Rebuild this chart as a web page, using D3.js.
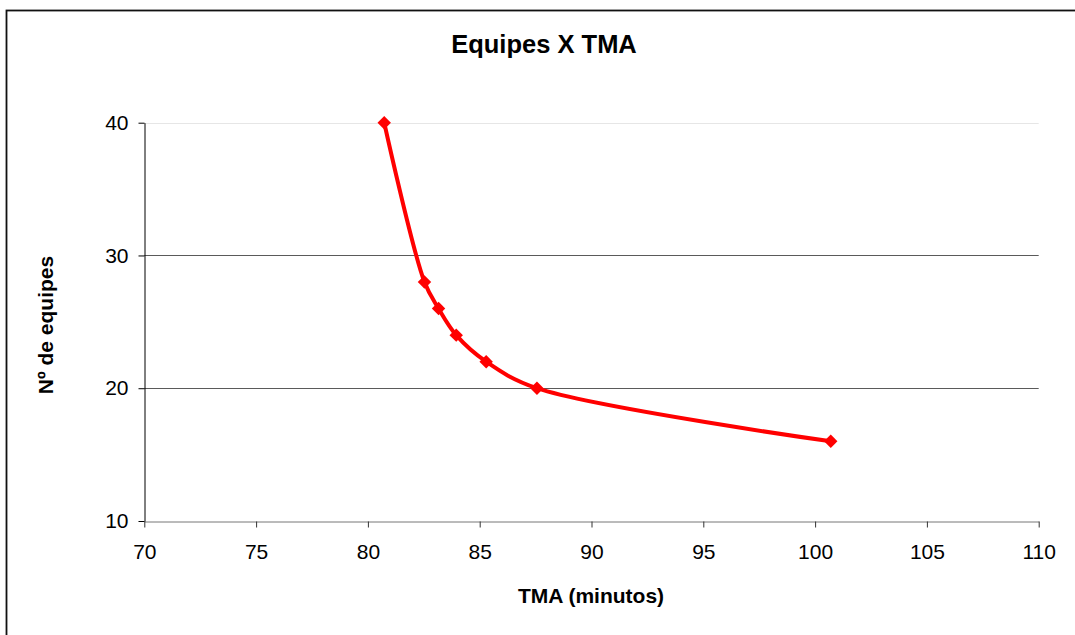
<!DOCTYPE html>
<html>
<head>
<meta charset="utf-8">
<script src="https://cdn.jsdelivr.net/npm/d3@7"></script>
<style>
  body { margin: 0; background: #fff; }
  text { font-family: Arial, "Liberation Sans", sans-serif; }
</style>
</head>
<body>
<div class="grafico"></div>
<script>
// Datos del grafico
var tma = [80.73, 82.53, 83.16, 83.95, 85.29, 87.56, 100.7];
var equipes = [40, 28, 26, 24, 22, 20, 16];
var xTicks = [70, 75, 80, 85, 90, 95, 100, 105, 110];
var yTicks = [10, 20, 30, 40];

var ancho = 1075, alto = 635;

var svg = d3.select(".grafico").append("svg")
    .attr("width", ancho)
    .attr("height", alto);

// Marco del grafico (se corta en el borde)
svg.append("rect")
    .attr("x", 6.5).attr("y", 10.5)
    .attr("width", 1200).attr("height", 800)
    .attr("fill", "white")
    .attr("stroke", "#111")
    .attr("stroke-width", 1.8);

var x = d3.scaleLinear().domain([70, 110]).range([144.3, 1038.7]);
var y = d3.scaleLinear().domain([10, 40]).range([521, 122.7]);

// Lineas de la grilla
svg.selectAll("line.grid")
    .data(yTicks.filter(function(d) { return d > 10; }))
    .enter().append("line")
    .attr("class", "grid")
    .attr("x1", x(70)).attr("x2", x(110))
    .attr("y1", function(d) { return Math.round(y(d)) + 0.5; })
    .attr("y2", function(d) { return Math.round(y(d)) + 0.5; })
    .attr("stroke", function(d) { return d === 40 ? "#e6e6e6" : "#5a5a5a"; })
    .attr("stroke-width", 1);

// Eje X
var ejeX = svg.append("g")
    .attr("transform", "translate(0," + (Math.round(y(10)) + 0.5) + ")")
    .call(d3.axisBottom(x).tickValues(xTicks).tickSize(6).tickSizeOuter(0).tickPadding(17));
ejeX.select(".domain").attr("stroke", "#777");
ejeX.selectAll(".tick line").attr("stroke", "#333");
ejeX.selectAll("text").attr("font-size", "21px").attr("fill", "#000")
    .attr("font-family", "Arial, 'Liberation Sans', sans-serif");

// Eje Y
var ejeY = svg.append("g")
    .attr("transform", "translate(" + (Math.round(x(70)) + 0.5) + ",0)")
    .call(d3.axisLeft(y).tickValues(yTicks).tickSize(6).tickSizeOuter(0).tickPadding(10));
ejeY.select(".domain").attr("stroke", "#000");
ejeY.selectAll(".tick line").attr("stroke", "#000");
ejeY.selectAll("text").attr("font-size", "21px").attr("fill", "#000")
    .attr("font-family", "Arial, 'Liberation Sans', sans-serif");

// Linea suavizada
var puntos = tma.map(function(d, i) { return [d, equipes[i]]; });
var linea = d3.line()
    .x(function(d) { return x(d[0]); })
    .y(function(d) { return y(d[1]); })
    .curve(d3.curveCatmullRom.alpha(0.5));

svg.append("path")
    .datum(puntos)
    .attr("d", linea)
    .attr("fill", "none")
    .attr("stroke", "#ff0000")
    .attr("stroke-width", 4)
    .attr("stroke-linejoin", "round");

// Marcadores (rombos)
svg.selectAll("path.marcador")
    .data(puntos)
    .enter().append("path")
    .attr("class", "marcador")
    .attr("d", d3.symbol().type(d3.symbolDiamond2).size(115))
    .attr("transform", function(d) { return "translate(" + x(d[0]) + "," + y(d[1]) + ")"; })
    .attr("fill", "#ff0000");

// Titulo
svg.append("text")
    .attr("x", 544).attr("y", 53)
    .attr("text-anchor", "middle")
    .attr("font-size", "25.5px")
    .attr("font-weight", "bold")
    .text("Equipes X TMA");

// Titulo eje X
svg.append("text")
    .attr("x", 591).attr("y", 603)
    .attr("text-anchor", "middle")
    .attr("font-size", "21px")
    .attr("font-weight", "bold")
    .text("TMA (minutos)");

// Titulo eje Y
svg.append("text")
    .attr("transform", "translate(53,325) rotate(-90)")
    .attr("text-anchor", "middle")
    .attr("font-size", "21px")
    .attr("font-weight", "bold")
    .text("Nº de equipes");
</script>
</body>
</html>
